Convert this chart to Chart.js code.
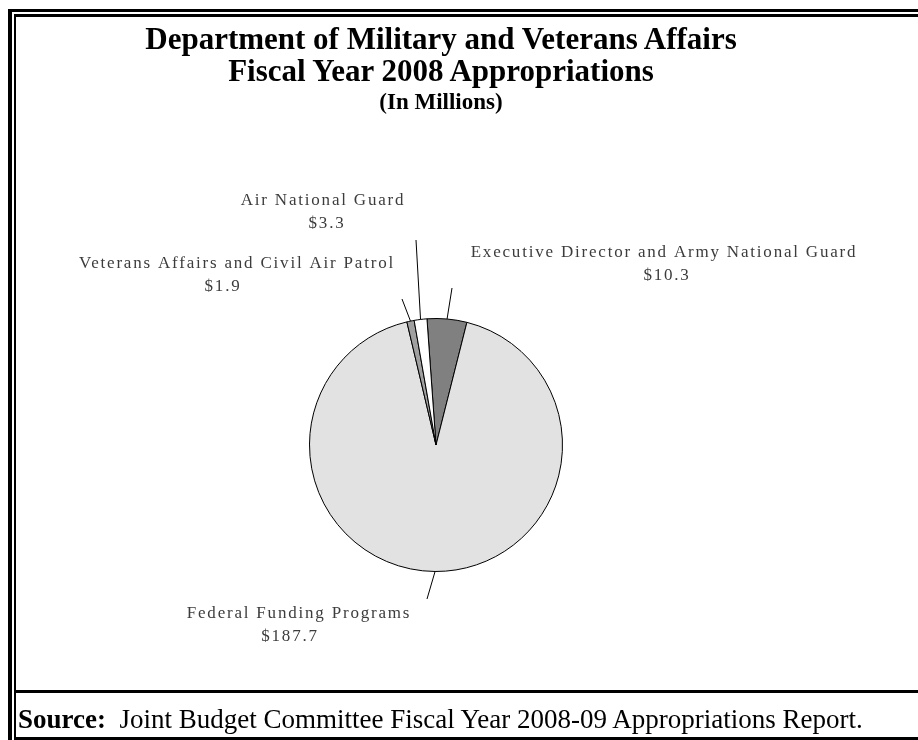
<!DOCTYPE html>
<html lang="en">
<head>
  <meta charset="UTF-8" />
  <title>Military and Veterans Affairs FY2008</title>
  <script src="https://cdn.jsdelivr.net/npm/chart.js"></script>
  <style>
    html, body { margin: 0; padding: 0; background: #fff; }
    .page { position: relative; width: 918px; height: 740px; overflow: hidden; font-family: "Liberation Serif", "Times New Roman", serif; }
    #pie { position: absolute; left: 0; top: 0; }
    .line { position: absolute; background: #000; }
    .title { position: absolute; left: 0; width: 882px; text-align: center; font-weight: bold; color: #000; white-space: nowrap; line-height: 1; }
    .source { position: absolute; left: 18px; top: 706px; font-size: 27px; line-height: 1; color: #000; white-space: nowrap; }
  </style>
</head>
<body>
<div class="page">
  <canvas id="pie" width="918" height="740"></canvas>

  <!-- frame (double rule left/top, separator above source) -->
  <div class="line" style="left:8px;top:9px;width:910px;height:3px"></div>
  <div class="line" style="left:14px;top:14px;width:904px;height:3px"></div>
  <div class="line" style="left:8px;top:9px;width:4px;height:731px"></div>
  <div class="line" style="left:14px;top:14px;width:2px;height:726px"></div>
  <div class="line" style="left:16px;top:690px;width:902px;height:3px"></div>
  <div class="line" style="left:16px;top:737px;width:902px;height:3px"></div>

  <div class="title" style="top:23px;font-size:31px">Department of Military and Veterans Affairs</div>
  <div class="title" style="top:55px;font-size:31px">Fiscal Year 2008 Appropriations</div>
  <div class="title" style="top:90px;font-size:23px">(In Millions)</div>

  <div class="source"><b>Source:</b>&nbsp; Joint Budget Committee Fiscal Year 2008-09 Appropriations Report.</div>
</div>

<script>
  // data
  const categories = [
    'Executive Director and Army National Guard',
    'Federal Funding Programs',
    'Veterans Affairs and Civil Air Patrol',
    'Air National Guard'
  ];
  const amounts = [10.3, 187.7, 1.9, 3.3];
  const valueLabels = ['$10.3', '$187.7', '$1.9', '$3.3'];
  const sliceColors = ['#808080', '#e2e2e2', '#a0a0a0', '#ffffff'];

  // where each label sits and where its leader line starts (page px)
  const labelSpots = [
    { x: 664, y: 253, vx: 667, line: [452, 288] },
    { x: 299, y: 614, vx: 290, line: [427, 599] },
    { x: 237, y: 264, vx: 223, line: [402, 299] },
    { x: 323, y: 201, vx: 327, line: [416, 240] }
  ];

  const leaderLabels = {
    id: 'leaderLabels',
    afterDatasetsDraw(chart) {
      const ctx = chart.ctx;
      const arcs = chart.getDatasetMeta(0).data;
      ctx.save();
      arcs.forEach((arc, i) => {
        const spot = labelSpots[i];
        const mid = (arc.startAngle + arc.endAngle) / 2;
        const ex = arc.x + Math.cos(mid) * arc.outerRadius;
        const ey = arc.y + Math.sin(mid) * arc.outerRadius;
        ctx.strokeStyle = '#000';
        ctx.lineWidth = 1;
        ctx.beginPath();
        ctx.moveTo(spot.line[0], spot.line[1]);
        ctx.lineTo(ex, ey);
        ctx.stroke();

        ctx.fillStyle = '#3c3c3c';
        ctx.font = '17px "Liberation Serif", serif';
        ctx.letterSpacing = '1.8px';
        ctx.textAlign = 'center';
        ctx.textBaseline = 'middle';
        ctx.fillText(categories[i], spot.x, spot.y);
        ctx.fillText(valueLabels[i], spot.vx, spot.y + 23);
      });
      ctx.restore();
    }
  };

  new Chart(document.getElementById('pie'), {
    type: 'pie',
    data: {
      labels: categories,
      datasets: [{
        data: amounts,
        backgroundColor: sliceColors,
        borderColor: '#000',
        borderWidth: 1
      }]
    },
    options: {
      responsive: false,
      animation: false,
      rotation: -4.1,
      layout: { padding: { left: 309, right: 355, top: 318, bottom: 168 } },
      plugins: {
        legend: { display: false },
        tooltip: { enabled: false },
        title: { display: false }
      }
    },
    plugins: [leaderLabels]
  });
</script>
</body>
</html>
